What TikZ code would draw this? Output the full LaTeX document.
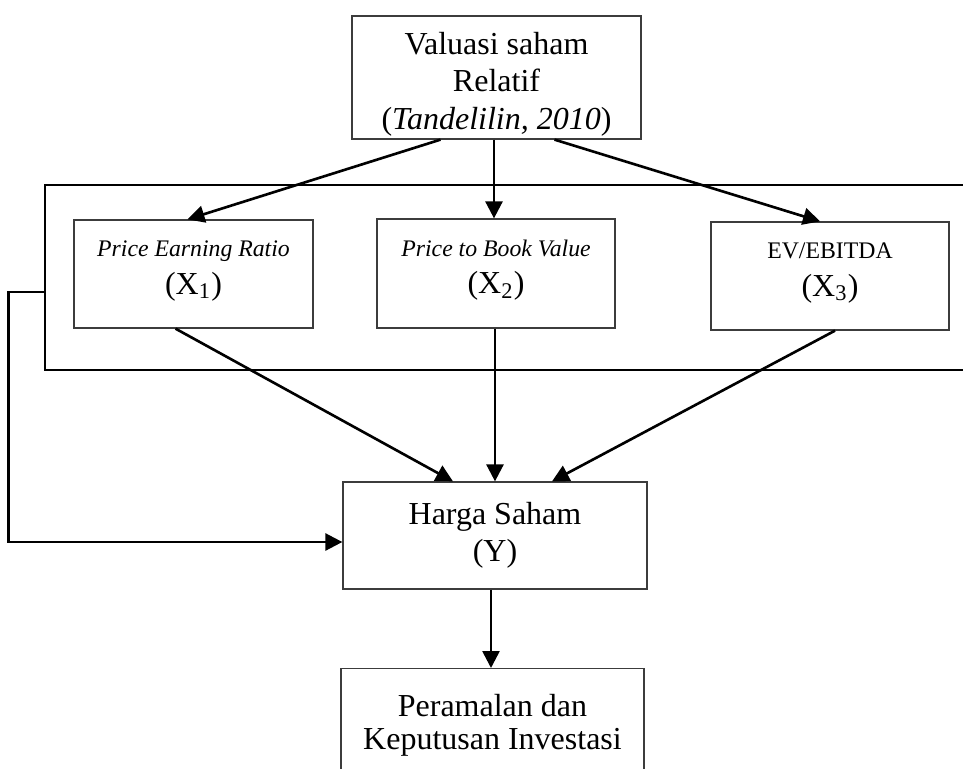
\documentclass[tikz,border=0pt]{standalone}
\usepackage{fontspec}
\setmainfont{Liberation Serif}
\usetikzlibrary{arrows.meta,positioning,calc}
\definecolor{boxline}{RGB}{60,60,60}
\newcommand{\ratiofont}{\fontsize{9.5}{15}\selectfont}

\begin{document}
\begin{tikzpicture}[x=0.4pt,y=-0.4pt,
    box/.style={draw=boxline,line width=0.5pt,align=center,inner sep=0pt,font=\fontsize{12.8}{15}\selectfont},
    arr/.style={-{Triangle[length=6.8pt,width=6.8pt]},line width=1.05pt}]
      \useasboundingbox (0,0) rectangle (963,769);
      \clip (0,0) rectangle (963,769);
      \node[draw,line width=1pt,minimum width=422pt,minimum height=74pt] (frame) at (572.5,277.5) {};
      \node[box,minimum width=115.6pt,minimum height=49.2pt] (val) at (496.5,77.5) {\rule{0pt}{14pt}Valuasi saham\\Relatif\\(\textit{Tandelilin, 2010})};
      \node[box,minimum width=95.6pt,minimum height=43.2pt] (per) at (193.5,274) {\rule{0pt}{10pt}{\ratiofont\textit{Price Earning Ratio}}\\(X\textsubscript{1})\rule[-9pt]{0pt}{1pt}};
      \node[box,minimum width=95.2pt,minimum height=43.6pt] (pbv) at (496,273.5) {\rule{0pt}{10pt}{\ratiofont\textit{Price to Book Value}}\\(X\textsubscript{2})\rule[-9pt]{0pt}{1pt}};
      \node[box,minimum width=95.2pt,minimum height=43.2pt] (ev) at (830,276) {\rule{0pt}{10pt}{\ratiofont EV/EBITDA}\\(X\textsubscript{3})\rule[-9pt]{0pt}{1pt}};
      \node[box,minimum width=121.6pt,minimum height=42.8pt] (harga) at (495,535.5) {Harga Saham\\(Y)};
      \node[box,minimum width=121.2pt,anchor=north,inner ysep=9pt] (ramal) at (492.5,668) {\rule{0pt}{10pt}Peramalan dan\\[-1.5pt]Keputusan Investasi\rule[-20pt]{0pt}{1pt}};
      % dari valuasi ke tiap rasio
      \draw[arr] ($(val.south)+(-56,0)$) -- ($(per.north)+(-6,0)$);
      \draw[arr] ($(val.south)+(-2.5,0)$) -- ($(pbv.north)+(-2,0)$);
      \draw[arr] ($(val.south)+(58,0)$) -- ($(ev.north)+(-10,0)$);
      % rasio ke harga saham
      \draw[arr] ($(per.south)+(-18,0)$) -- ($(harga.north)+(-42,0)$);
      \draw[arr] ($(pbv.south)+(-1,0)$) -- (harga.north);
      \draw[arr] ($(ev.south)+(5,0)$) -- ($(harga.north)+(57,0)$);
      \draw[arr] ($(frame.west)+(0,14.5)$) -- ++(-35,0) |- ($(harga.west)+(0,6.5)$);
      \draw[arr] ($(harga.south)+(-4,0)$) -- ($(ramal.north)+(-1.5,0)$);
    \end{tikzpicture}
\end{document}
